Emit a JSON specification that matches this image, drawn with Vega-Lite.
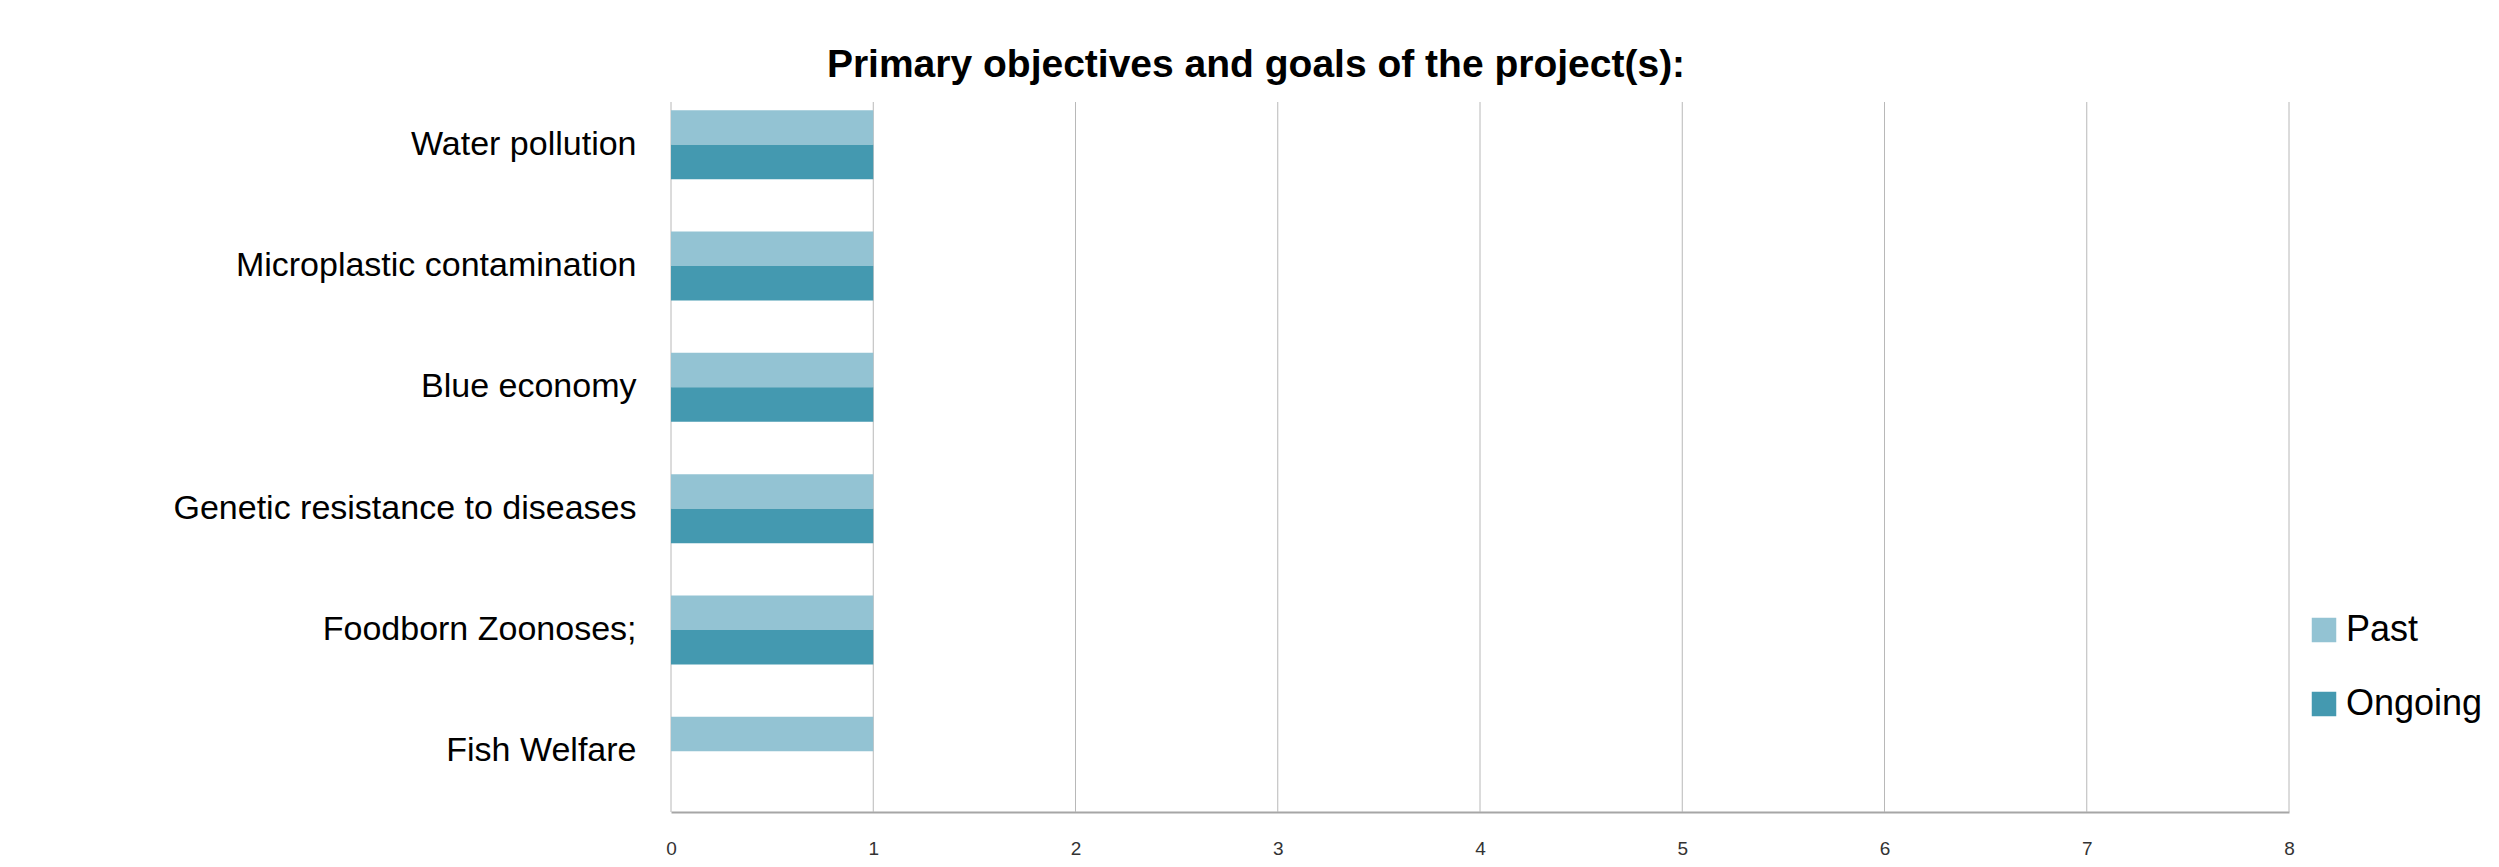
{
  "$schema": "https://vega.github.io/schema/vega-lite/v6.json",
  "width": 1618,
  "height": 728,
  "autosize": {"type": "none"},
  "padding": {"left": 671, "top": 84, "right": 210, "bottom": 55},
  "background": "white",
  "title": {
    "text": "Primary objectives and goals of the project(s):",
    "font": "Liberation Sans",
    "fontSize": 39,
    "fontWeight": "bold",
    "color": "#000000",
    "anchor": "middle",
    "frame": "group",
    "dx": -224,
    "offset": -1
  },
  "datasets": {
    "bars": [
      {"objective": "Water pollution", "status": "Past", "count": 1},
      {"objective": "Water pollution", "status": "Ongoing", "count": 1},
      {"objective": "Microplastic contamination", "status": "Past", "count": 1},
      {"objective": "Microplastic contamination", "status": "Ongoing", "count": 1},
      {"objective": "Blue economy", "status": "Past", "count": 1},
      {"objective": "Blue economy", "status": "Ongoing", "count": 1},
      {"objective": "Genetic resistance to diseases", "status": "Past", "count": 1},
      {"objective": "Genetic resistance to diseases", "status": "Ongoing", "count": 1},
      {"objective": "Foodborn Zoonoses;", "status": "Past", "count": 1},
      {"objective": "Foodborn Zoonoses;", "status": "Ongoing", "count": 1},
      {"objective": "Fish Welfare", "status": "Past", "count": 1}
    ],
    "grid": [
      {"tick": 0}, {"tick": 1}, {"tick": 2}, {"tick": 3}, {"tick": 4},
      {"tick": 5}, {"tick": 6}, {"tick": 7}, {"tick": 8}
    ]
  },
  "layer": [
    {
      "data": {"name": "grid"},
      "mark": {"type": "rule", "color": "#b8b8b8", "strokeWidth": 1},
      "encoding": {
        "x": {"field": "tick", "type": "quantitative"},
        "y": {"datum": "Water pollution", "type": "nominal", "bandPosition": -0.118},
        "y2": {"datum": "Fish Welfare", "bandPosition": 1.379}
      }
    },
    {
      "data": {"name": "bars"},
      "mark": {"type": "bar", "stroke": null},
      "encoding": {
        "y": {
          "field": "objective",
          "type": "nominal",
          "sort": ["Water pollution", "Microplastic contamination", "Blue economy", "Genetic resistance to diseases", "Foodborn Zoonoses;", "Fish Welfare"],
          "scale": {"paddingInner": 0.431, "paddingOuter": 0.2155},
          "axis": {
            "title": null,
            "ticks": false,
            "grid": false,
            "domain": false,
            "labelFont": "Liberation Sans",
            "labelFontSize": 34,
            "labelColor": "#000000",
            "labelPadding": 35,
            "labelLimit": 800
          }
        },
        "yOffset": {
          "field": "status",
          "type": "nominal",
          "sort": ["Past", "Ongoing"],
          "scale": {"paddingInner": 0, "paddingOuter": 0}
        },
        "x": {
          "field": "count",
          "type": "quantitative",
          "scale": {"domain": [0, 8], "nice": false},
          "axis": {
            "title": null,
            "values": [0, 1, 2, 3, 4, 5, 6, 7, 8],
            "format": "d",
            "ticks": false,
            "grid": false,
            "domainColor": "#a6a6a6",
            "domainWidth": 2,
            "labelFont": "Liberation Sans",
            "labelFontSize": 19,
            "labelColor": "#333333",
            "labelPadding": 27,
            "labelFlush": false
          }
        },
        "color": {
          "field": "status",
          "type": "nominal",
          "sort": ["Past", "Ongoing"],
          "scale": {"domain": ["Past", "Ongoing"], "range": ["#93c3d3", "#4499b0"]},
          "legend": {
            "title": null,
            "orient": "none",
            "legendX": 1635,
            "legendY": 528,
            "padding": 0,
            "symbolType": "square",
            "symbolSize": 600,
            "symbolStrokeWidth": 0,
            "labelFont": "Liberation Sans",
            "labelFontSize": 36,
            "labelColor": "#000000",
            "labelOffset": 4,
            "rowPadding": 38
          }
        }
      }
    }
  ],
  "config": {
    "view": {"stroke": null}
  }
}
